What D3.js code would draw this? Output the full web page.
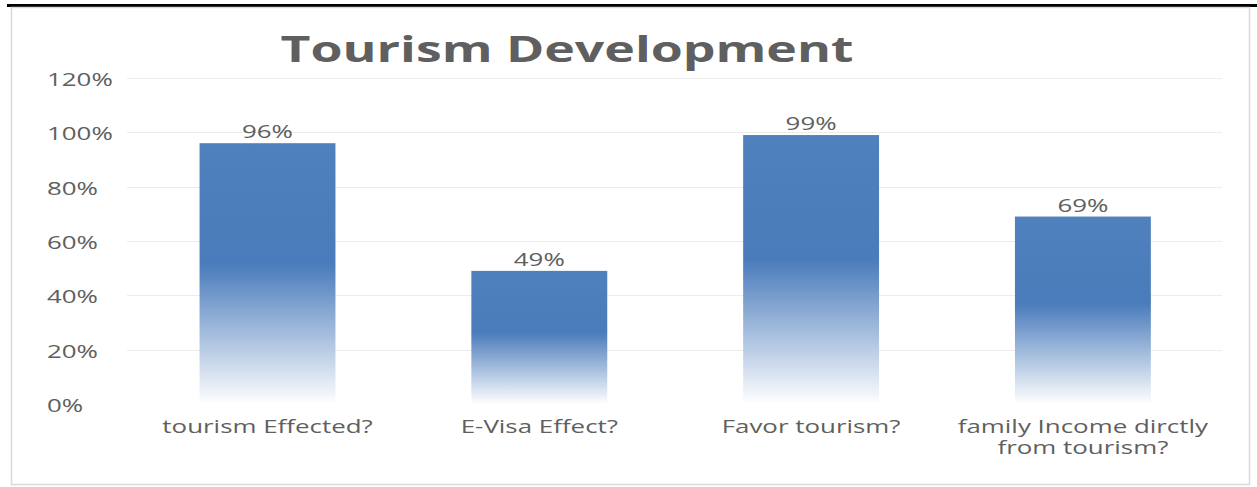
<!DOCTYPE html>
<html>
<head>
<meta charset="utf-8">
<script src="https://cdn.jsdelivr.net/npm/d3@7"></script>
<style>
  html, body { margin: 0; padding: 0; background: #fff; }
  svg { display: block; }
  text { font-family: 'Open Sans', 'DejaVu Sans', sans-serif; fill: #5f5f5f; }
</style>
</head>
<body>
<svg id="chart" width="1257" height="487"></svg>
<script>
// chart data
const title = 'Tourism Development'
const categories = [
  'tourism Effected?',
  'E-Visa Effect?',
  'Favor tourism?',
  'family Income dirctly from tourism?',
]
const values = [0.96, 0.49, 0.99, 0.69]
const yTicks = [0, 0.2, 0.4, 0.6, 0.8, 1.0, 1.2]

// the source picture is stretched sideways, so text gets stretched too
const SX = 1.48

let svg = d3.select('#chart')

let stretch = function(sel, x, y) {
  return sel.attr('transform', 'translate(' + x + ',' + y + ') scale(' + SX + ',1)')
}

// page rule above the chart
svg.append('rect')
  .attr('x', 7).attr('y', 4)
  .attr('width', 1250).attr('height', 3)
  .attr('fill', '#000')

// chart frame
svg.append('rect')
  .attr('x', 11.5).attr('y', 7.5)
  .attr('width', 1238).attr('height', 477)
  .attr('fill', 'none')
  .attr('stroke', '#d9d9d9')
  .attr('stroke-width', 1.5)

let y = d3.scaleLinear().domain([0, 1.2]).range([404, 78])
let x = d3.scaleBand()
  .domain(categories)
  .range([131.6, 1218.8])
  .paddingInner(0.5)
  .paddingOuter(0.25)

// gridlines
svg.append('g')
  .selectAll('line')
  .data(yTicks.slice(1))
  .enter()
  .append('line')
  .attr('x1', 127).attr('x2', 1222)
  .attr('y1', function(d) { return Math.round(y(d)) + 0.5 })
  .attr('y2', function(d) { return Math.round(y(d)) + 0.5 })
  .attr('stroke', '#ececec')
  .attr('stroke-width', 1)

// y tick labels, left aligned
let fmt = d3.format('.0%')
svg.append('g')
  .selectAll('text')
  .data(yTicks)
  .enter()
  .append('text')
  .each(function(d) { stretch(d3.select(this), 47, y(d) + 8) })
  .style('font-size', '17.5px')
  .text(function(d) { return fmt(d) })

// bar fill: solid on top, fading out toward the base
let grad = svg.append('defs').append('linearGradient')
  .attr('id', 'barFade')
  .attr('x1', 0).attr('y1', 0).attr('x2', 0).attr('y2', 1)
grad.append('stop').attr('offset', '0').attr('stop-color', '#4f81bd')
grad.append('stop').attr('offset', '0.46').attr('stop-color', '#4a7bba')
grad.append('stop').attr('offset', '0.5').attr('stop-color', '#5684c0')
grad.append('stop').attr('offset', '0.97').attr('stop-color', '#f4f7fb')
grad.append('stop').attr('offset', '1').attr('stop-color', '#ffffff')

let bars = svg.append('g')
  .selectAll('.bar')
  .data(values)
  .enter()
  .append('g')
  .attr('class', 'bar')

bars.append('rect')
  .attr('x', function(d, i) { return x(categories[i]) })
  .attr('y', function(d) { return y(d) })
  .attr('width', x.bandwidth())
  .attr('height', function(d) { return y(0) - y(d) })
  .attr('fill', 'url(#barFade)')

bars.append('text')
  .each(function(d, i) {
    stretch(d3.select(this), x(categories[i]) + x.bandwidth() / 2, y(d) - 5)
  })
  .style('text-anchor', 'middle')
  .style('font-size', '17.5px')
  .text(function(d) { return fmt(d) })

// category labels, wrapped to the band step
let maxW = x.step()
svg.append('g')
  .selectAll('text')
  .data(categories)
  .enter()
  .append('text')
  .style('text-anchor', 'middle')
  .style('font-size', '17.5px')
  .each(function(d) {
    let t = d3.select(this)
    stretch(t, x(d) + x.bandwidth() / 2, 433)
    let words = d.split(' ')
    let line = []
    let dy = 0
    let span = t.append('tspan').attr('x', 0).attr('y', 0)
    words.forEach(function(w) {
      line.push(w)
      span.text(line.join(' '))
      if (span.node().getComputedTextLength() * SX > maxW && line.length > 1) {
        line.pop()
        span.text(line.join(' '))
        line = [w]
        dy += 21
        span = t.append('tspan').attr('x', 0).attr('y', dy).text(w)
      }
    })
  })

// title
svg.append('text')
  .call(stretch, 567, 62)
  .style('text-anchor', 'middle')
  .style('font-size', '35px')
  .style('font-weight', 'bold')
  .text(title)
</script>
</body>
</html>
